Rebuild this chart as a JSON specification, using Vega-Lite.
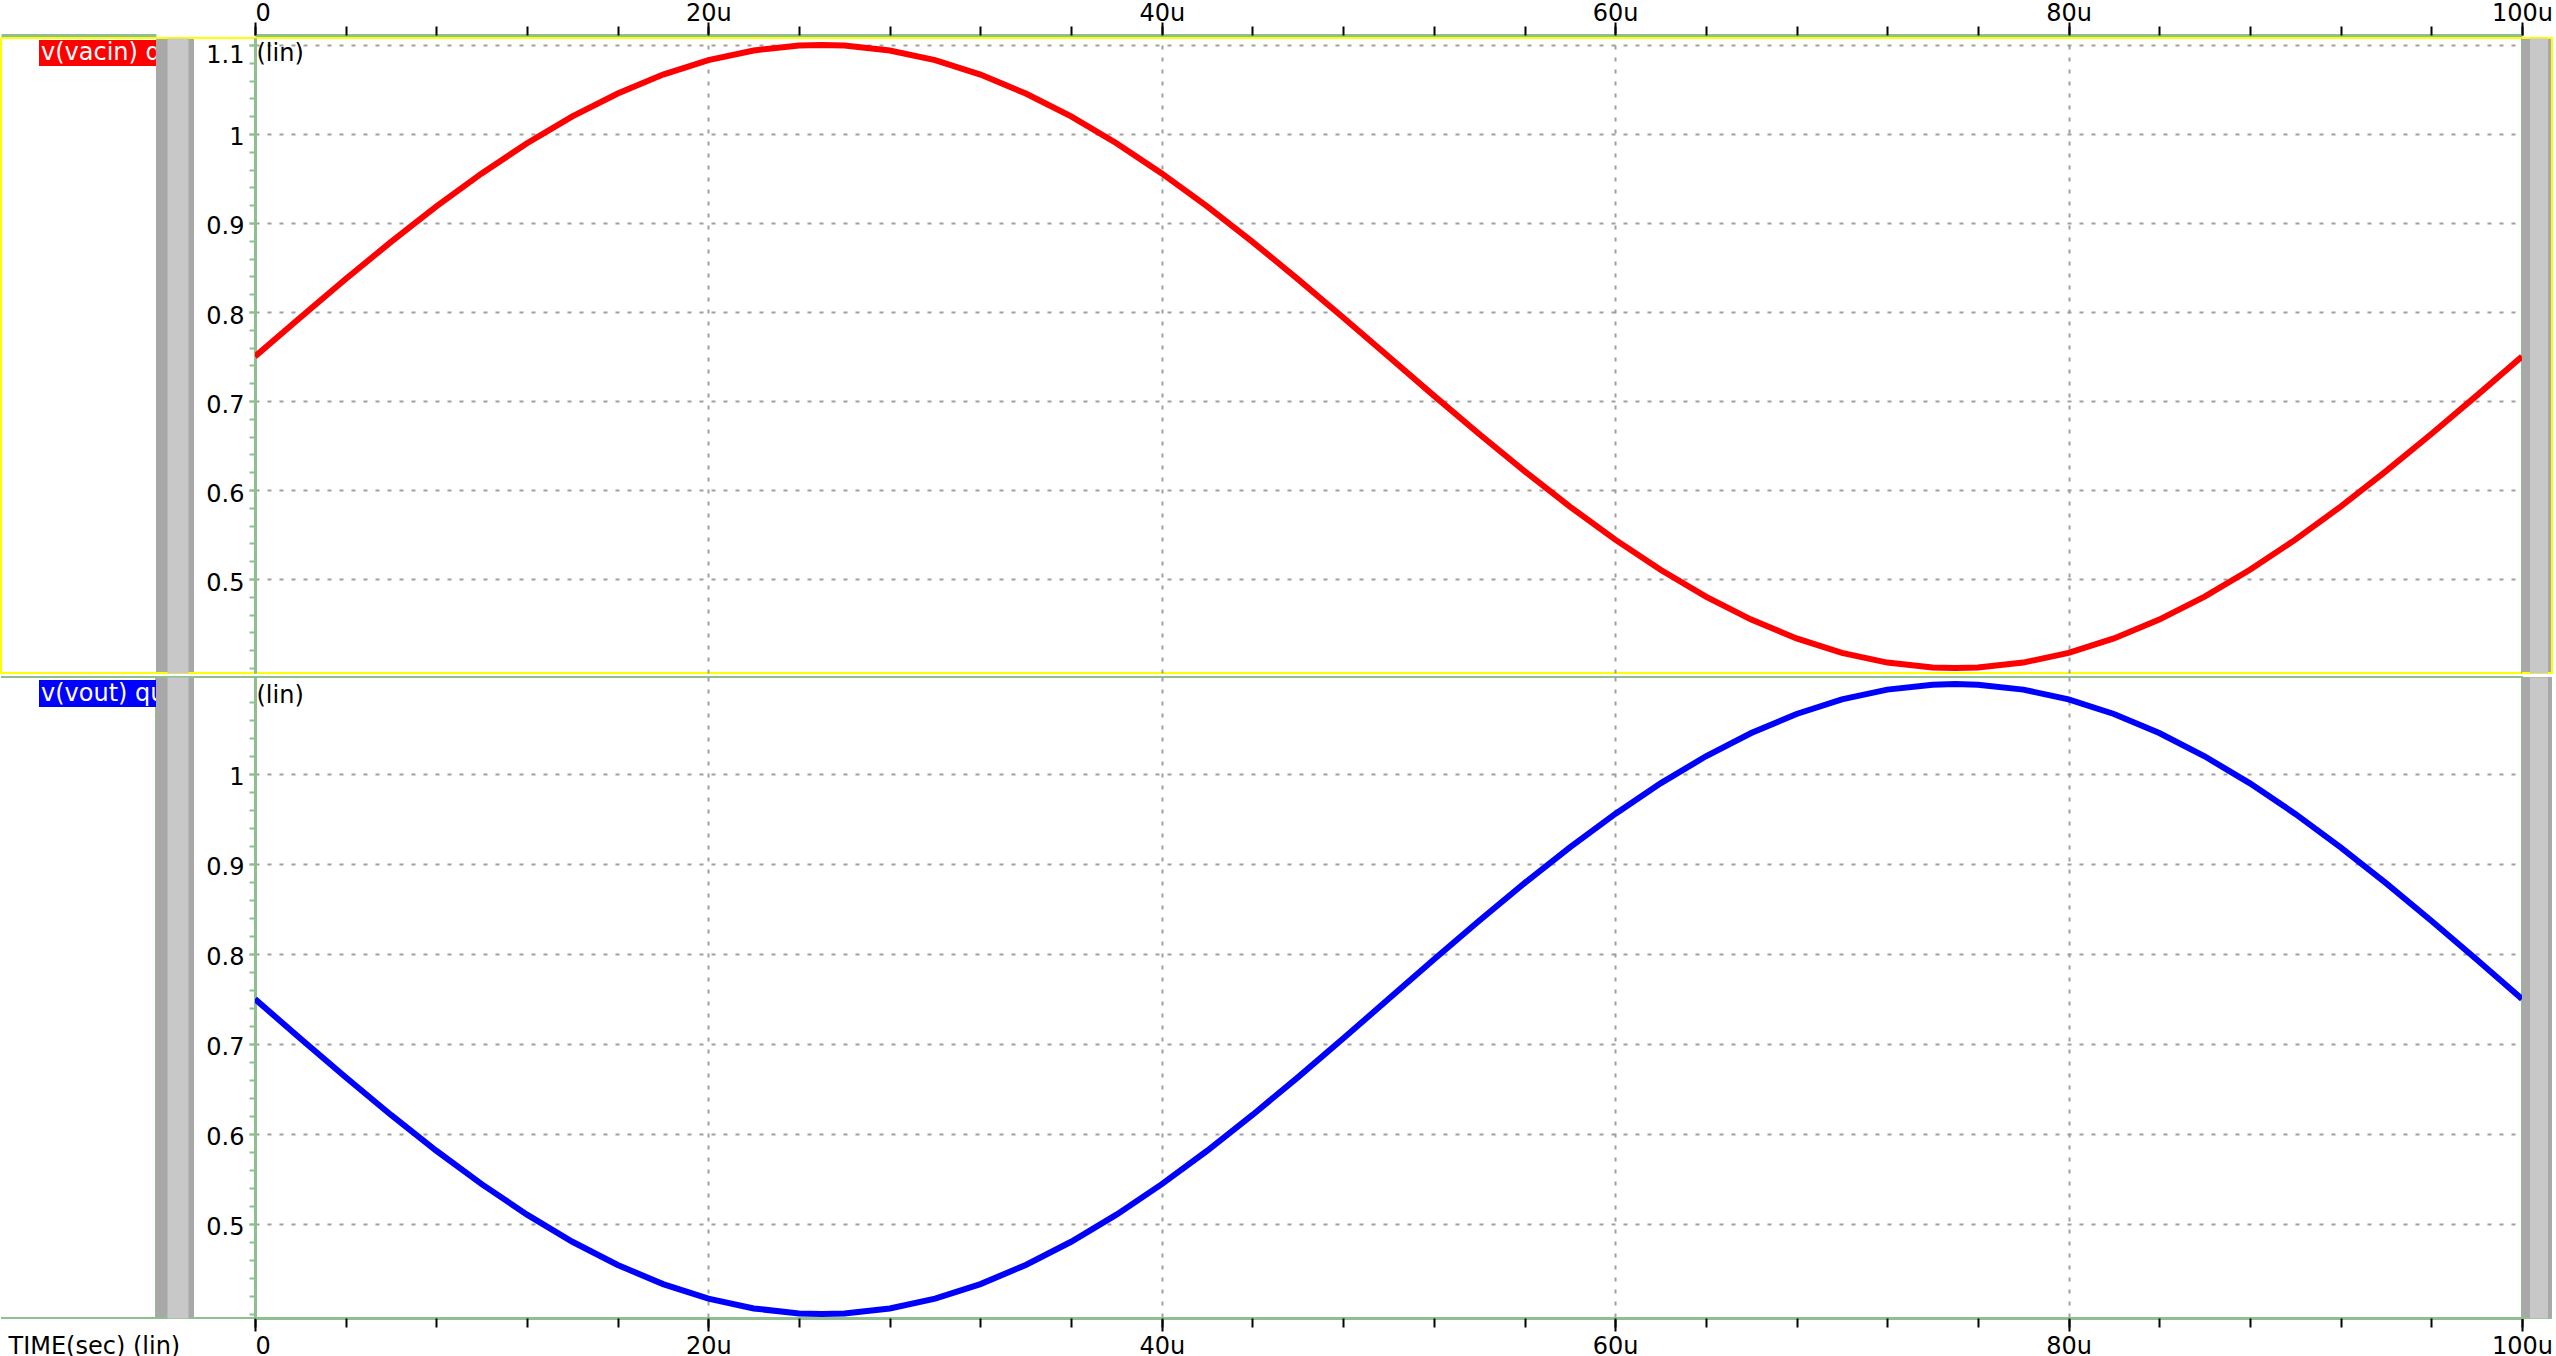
{
  "$schema": "https://vega.github.io/schema/vega-lite/v6.json",
  "background": "white",
  "padding": {"left": 0, "top": 0, "right": 5, "bottom": 0},
  "autosize": {"type": "pad"},
  "config": {
    "font": "DejaVu Sans",
    "axis": {"labelFont": "DejaVu Sans", "titleFont": "DejaVu Sans"},
    "text": {"font": "DejaVu Sans"},
    "view": {"stroke": null}
  },
  "datasets": {
    "wave": [
      {"t": 0, "vacin": 0.75, "vout": 0.75},
      {"t": 2, "vacin": 0.7939, "vout": 0.7061},
      {"t": 4, "vacin": 0.837, "vout": 0.663},
      {"t": 6, "vacin": 0.8788, "vout": 0.6212},
      {"t": 8, "vacin": 0.9186, "vout": 0.5814},
      {"t": 10, "vacin": 0.9557, "vout": 0.5443},
      {"t": 12, "vacin": 0.9896, "vout": 0.5104},
      {"t": 14, "vacin": 1.0197, "vout": 0.4803},
      {"t": 16, "vacin": 1.0455, "vout": 0.4545},
      {"t": 18, "vacin": 1.0667, "vout": 0.4333},
      {"t": 20, "vacin": 1.0829, "vout": 0.4171},
      {"t": 22, "vacin": 1.0938, "vout": 0.4062},
      {"t": 24, "vacin": 1.0993, "vout": 0.4007},
      {"t": 25, "vacin": 1.1, "vout": 0.4},
      {"t": 26, "vacin": 1.0993, "vout": 0.4007},
      {"t": 28, "vacin": 1.0938, "vout": 0.4062},
      {"t": 30, "vacin": 1.0829, "vout": 0.4171},
      {"t": 32, "vacin": 1.0667, "vout": 0.4333},
      {"t": 34, "vacin": 1.0455, "vout": 0.4545},
      {"t": 36, "vacin": 1.0197, "vout": 0.4803},
      {"t": 38, "vacin": 0.9896, "vout": 0.5104},
      {"t": 40, "vacin": 0.9557, "vout": 0.5443},
      {"t": 42, "vacin": 0.9186, "vout": 0.5814},
      {"t": 44, "vacin": 0.8788, "vout": 0.6212},
      {"t": 46, "vacin": 0.837, "vout": 0.663},
      {"t": 48, "vacin": 0.7939, "vout": 0.7061},
      {"t": 50, "vacin": 0.75, "vout": 0.75},
      {"t": 52, "vacin": 0.7061, "vout": 0.7939},
      {"t": 54, "vacin": 0.663, "vout": 0.837},
      {"t": 56, "vacin": 0.6212, "vout": 0.8788},
      {"t": 58, "vacin": 0.5814, "vout": 0.9186},
      {"t": 60, "vacin": 0.5443, "vout": 0.9557},
      {"t": 62, "vacin": 0.5104, "vout": 0.9896},
      {"t": 64, "vacin": 0.4803, "vout": 1.0197},
      {"t": 66, "vacin": 0.4545, "vout": 1.0455},
      {"t": 68, "vacin": 0.4333, "vout": 1.0667},
      {"t": 70, "vacin": 0.4171, "vout": 1.0829},
      {"t": 72, "vacin": 0.4062, "vout": 1.0938},
      {"t": 74, "vacin": 0.4007, "vout": 1.0993},
      {"t": 75, "vacin": 0.4, "vout": 1.1},
      {"t": 76, "vacin": 0.4007, "vout": 1.0993},
      {"t": 78, "vacin": 0.4062, "vout": 1.0938},
      {"t": 80, "vacin": 0.4171, "vout": 1.0829},
      {"t": 82, "vacin": 0.4333, "vout": 1.0667},
      {"t": 84, "vacin": 0.4545, "vout": 1.0455},
      {"t": 86, "vacin": 0.4803, "vout": 1.0197},
      {"t": 88, "vacin": 0.5104, "vout": 0.9896},
      {"t": 90, "vacin": 0.5443, "vout": 0.9557},
      {"t": 92, "vacin": 0.5814, "vout": 0.9186},
      {"t": 94, "vacin": 0.6212, "vout": 0.8788},
      {"t": 96, "vacin": 0.663, "vout": 0.837},
      {"t": 98, "vacin": 0.7061, "vout": 0.7939},
      {"t": 100, "vacin": 0.75, "vout": 0.75}
    ],
    "lab1": [{"label": "v(vacin) q"}],
    "lab2": [{"label": "v(vout) qu"}],
    "empty": []
  },
  "columns": 5,
  "spacing": {"row": 4, "column": 0},
  "bounds": "flush",
  "align": "each",
  "concat": [
    {
      "width": 155, "height": 635,
      "data": {"name": "lab1"},
      "view": {"fill": "white", "stroke": "#ffff00", "strokeWidth": 2, "strokeDash": [155, 635, 790, 0]},
      "layer": [
        {
          "mark": {"type": "bar", "color": "#ff0000"},
          "encoding": {
            "x": {"field": "label", "type": "nominal", "scale": {"type": "band", "paddingInner": 0, "paddingOuter": 0.1624, "align": 1},
              "axis": {"orient": "top", "offset": 3, "domainColor": "#8fbf8f", "domainWidth": 3, "ticks": false, "labels": false, "grid": false, "title": null}},
            "y": {"field": "label", "type": "nominal", "scale": {"type": "band", "paddingInner": 0.9146, "paddingOuter": 1, "align": 0.0033},
              "axis": {"orient": "right", "offset": 4, "domainColor": "#8fbf8f", "domainWidth": 6, "ticks": false, "labels": false, "grid": false, "title": null}}
          }
        },
        {
          "mark": {"type": "text", "color": "#ffffff", "align": "left", "baseline": "middle", "dx": 2, "fontSize": 24, "clip": true},
          "encoding": {
            "x": {"field": "label", "type": "nominal", "bandPosition": 0},
            "y": {"field": "label", "type": "nominal"},
            "text": {"field": "label"}
          }
        }
      ]
    },
    {
      "width": 38, "height": 635,
      "data": {"name": "empty"},
      "view": {"fill": "#a8a8a8", "stroke": "#ffff00", "strokeWidth": 2, "strokeDash": [38, 635, 38, 635]},
      "mark": {"type": "point", "opacity": 0},
      "encoding": {
        "y": {"datum": 0, "type": "quantitative", "axis": {"orient": "left", "offset": -21.5, "domainColor": "#c8c8c8", "domainWidth": 21, "ticks": false, "labels": false, "grid": false, "title": null}}
      }
    },
    {
      "width": 61, "height": 635,
      "data": {"name": "empty"},
      "view": {"fill": "white", "stroke": "#ffff00", "strokeWidth": 2, "strokeDash": [61, 635, 61, 635]},
      "mark": "rect",
      "encoding": {}
    },
    {
      "width": 2267, "height": 635,
      "data": {"name": "wave"},
      "view": {"fill": "white", "stroke": "#ffff00", "strokeWidth": 2},
      "resolve": {"axis": {"x": "independent", "y": "independent"}},
      "layer": [
        {
          "mark": {"type": "line", "color": "#ff0000", "strokeWidth": 6, "clip": true},
          "encoding": {
            "x": {
              "field": "t", "type": "quantitative",
              "scale": {"domain": [0, 100], "nice": false, "zero": false},
              "axis": {
                "orient": "top", "values": [0, 20, 40, 60, 80, 100], "offset": 3, "title": null,
                "labelExpr": "datum.value == 0 ? '0' : datum.value + 'u'",
                "labelAlign": {"condition": {"test": "datum.value == 0", "value": "left"}, "value": "center"},
                "labelBaseline": "alphabetic", "labelPadding": 2, "labelFontSize": 24, "labelColor": "#000000",
                "labelFlush": false, "labelOverlap": false, "labelBound": false,
                "tickSize": 13, "tickWidth": 2, "tickColor": "#000000",
                "domainColor": "#8fbf8f", "domainWidth": 3,
                "grid": true, "gridColor": "#a0a0a0", "gridDash": [4, 8], "gridWidth": 2
              }
            },
            "y": {
              "field": "vacin", "type": "quantitative",
              "scale": {"domain": [0.3945, 1.1078], "nice": false, "zero": false},
              "axis": {
                "orient": "left", "values": [0.5, 0.6, 0.7, 0.8, 0.9, 1, 1.1],
                "labelExpr": "format(datum.value, '~g')",
                "labelBaseline": "alphabetic",
                "labelOffset": {"condition": {"test": "datum.value > 1.09", "value": 18}, "value": 11},
                "labelPadding": 5, "labelFontSize": 24, "labelColor": "#000000", "labelFlush": false, "labelOverlap": false,
                "tickSize": 6, "tickWidth": 2, "tickColor": "#8fbf8f",
                "domainColor": "#8fbf8f", "domainWidth": 3,
                "grid": true, "gridColor": "#a0a0a0", "gridDash": [4, 8], "gridWidth": 2,
                "title": "(lin)", "titleAngle": 0, "titleX": 1, "titleY": 22, "titleAlign": "left", "titleBaseline": "alphabetic",
                "titleFontSize": 24, "titleFontWeight": "normal", "titleColor": "#000000"
              }
            }
          }
        },
        {
          "mark": {"type": "point", "opacity": 0},
          "encoding": {
            "x": {"field": "t", "type": "quantitative", "axis": {"orient": "top", "values": [0, 4, 8, 12, 16, 20, 24, 28, 32, 36, 40, 44, 48, 52, 56, 60, 64, 68, 72, 76, 80, 84, 88, 92, 96, 100], "offset": 3, "labels": false, "domain": false, "grid": false, "tickSize": 9, "tickWidth": 2, "tickColor": "#000000", "title": null}},
            "y": {"field": "vacin", "type": "quantitative", "axis": {"orient": "left", "values": [0.4, 0.42, 0.44, 0.46, 0.48, 0.5, 0.52, 0.54, 0.56, 0.58, 0.6, 0.62, 0.64, 0.66, 0.68, 0.7, 0.72, 0.74, 0.76, 0.78, 0.8, 0.82, 0.84, 0.86, 0.88, 0.9, 0.92, 0.94, 0.96, 0.98, 1, 1.02, 1.04, 1.06, 1.08, 1.1], "labels": false, "domain": false, "grid": false, "tickSize": 6, "tickWidth": 2, "tickColor": "#8fbf8f", "title": null}}
          }
        },
        {
          "mark": {"type": "point", "opacity": 0},
          "encoding": {
            "x": {"field": "t", "type": "quantitative", "axis": null},
            "y": {"field": "vacin", "type": "quantitative", "axis": {"orient": "right", "labels": false, "ticks": false, "grid": false, "domainColor": "#8fbf8f", "domainWidth": 3, "title": null}}
          }
        }
      ]
    },
    {
      "width": 30, "height": 635,
      "data": {"name": "empty"},
      "view": {"fill": "#a8a8a8", "stroke": "#ffff00", "strokeWidth": 2, "strokeDash": [695, 635]},
      "mark": {"type": "point", "opacity": 0},
      "encoding": {
        "y": {"datum": 0, "type": "quantitative", "axis": {"orient": "left", "offset": -16.5, "domainColor": "#c8c8c8", "domainWidth": 18, "ticks": false, "labels": false, "grid": false, "title": null}}
      }
    },
    {
      "width": 155, "height": 641,
      "data": {"name": "lab2"},
      "view": {"fill": "white", "stroke": "#8fbf8f", "strokeWidth": 2, "strokeDash": [951, 641]},
      "layer": [
        {
          "mark": {"type": "bar", "color": "#0000ff"},
          "encoding": {
            "x": {"field": "label", "type": "nominal", "axis": null, "scale": {"type": "band", "paddingInner": 0, "paddingOuter": 0.1624, "align": 1}},
            "y": {"field": "label", "type": "nominal", "scale": {"type": "band", "paddingInner": 0.91205, "paddingOuter": 1, "align": 0.0049},
              "axis": {"orient": "right", "offset": 4, "domainColor": "#8fbf8f", "domainWidth": 6, "ticks": false, "labels": false, "grid": false, "title": null}}
          }
        },
        {
          "mark": {"type": "text", "color": "#ffffff", "align": "left", "baseline": "middle", "dx": 2, "fontSize": 24, "clip": true},
          "encoding": {
            "x": {"field": "label", "type": "nominal", "bandPosition": 0},
            "y": {"field": "label", "type": "nominal"},
            "text": {"field": "label"}
          }
        }
      ]
    },
    {
      "width": 38, "height": 641,
      "data": {"name": "empty"},
      "view": {"fill": "#a8a8a8", "stroke": "#8fbf8f", "strokeWidth": 2, "strokeDash": [38, 641, 38, 641]},
      "mark": {"type": "point", "opacity": 0},
      "encoding": {
        "y": {"datum": 0, "type": "quantitative", "axis": {"orient": "left", "offset": -21.5, "domainColor": "#c8c8c8", "domainWidth": 21, "ticks": false, "labels": false, "grid": false, "title": null}}
      }
    },
    {
      "width": 61, "height": 641,
      "data": {"name": "empty"},
      "view": {"fill": "white", "stroke": "#8fbf8f", "strokeWidth": 2, "strokeDash": [61, 641, 61, 641]},
      "mark": "rect",
      "encoding": {}
    },
    {
      "width": 2267, "height": 641,
      "data": {"name": "wave"},
      "view": {"fill": "white", "stroke": "#8fbf8f", "strokeWidth": 2},
      "resolve": {"axis": {"x": "independent", "y": "independent"}},
      "layer": [
        {
          "mark": {"type": "line", "color": "#0000ff", "strokeWidth": 6, "clip": true},
          "encoding": {
            "x": {
              "field": "t", "type": "quantitative",
              "scale": {"domain": [0, 100], "nice": false, "zero": false},
              "axis": {
                "orient": "bottom", "values": [0, 20, 40, 60, 80, 100],
                "labelExpr": "datum.value == 0 ? '0' : datum.value + 'u'",
                "labelAlign": {"condition": {"test": "datum.value == 0", "value": "left"}, "value": "center"},
                "labelBaseline": "alphabetic", "labelPadding": 22, "labelFontSize": 24, "labelColor": "#000000",
                "labelFlush": false, "labelOverlap": false, "labelBound": false,
                "tickSize": 13, "tickWidth": 2, "tickColor": "#000000",
                "domainColor": "#8fbf8f", "domainWidth": 3,
                "grid": true, "gridColor": "#a0a0a0", "gridDash": [4, 8], "gridWidth": 2,
                "title": "TIME(sec) (lin)", "titleX": -247, "titleY": 35, "titleAlign": "left", "titleBaseline": "alphabetic",
                "titleFontSize": 24, "titleFontWeight": "normal", "titleColor": "#000000"
              }
            },
            "y": {
              "field": "vout", "type": "quantitative",
              "scale": {"domain": [0.3956, 1.1078], "nice": false, "zero": false},
              "axis": {
                "orient": "left", "values": [0.5, 0.6, 0.7, 0.8, 0.9, 1],
                "labelExpr": "format(datum.value, '~g')",
                "labelBaseline": "alphabetic", "labelOffset": 10,
                "labelPadding": 5, "labelFontSize": 24, "labelColor": "#000000", "labelFlush": false, "labelOverlap": false,
                "tickSize": 6, "tickWidth": 2, "tickColor": "#8fbf8f",
                "domainColor": "#8fbf8f", "domainWidth": 3,
                "grid": true, "gridColor": "#a0a0a0", "gridDash": [4, 8], "gridWidth": 2,
                "title": "(lin)", "titleAngle": 0, "titleX": 1, "titleY": 25, "titleAlign": "left", "titleBaseline": "alphabetic",
                "titleFontSize": 24, "titleFontWeight": "normal", "titleColor": "#000000"
              }
            }
          }
        },
        {
          "mark": {"type": "point", "opacity": 0},
          "encoding": {
            "x": {"field": "t", "type": "quantitative", "axis": {"orient": "bottom", "values": [0, 4, 8, 12, 16, 20, 24, 28, 32, 36, 40, 44, 48, 52, 56, 60, 64, 68, 72, 76, 80, 84, 88, 92, 96, 100], "labels": false, "domain": false, "grid": false, "tickSize": 9, "tickWidth": 2, "tickColor": "#000000", "title": null}},
            "y": {"field": "vout", "type": "quantitative", "axis": {"orient": "left", "values": [0.4, 0.42, 0.44, 0.46, 0.48, 0.5, 0.52, 0.54, 0.56, 0.58, 0.6, 0.62, 0.64, 0.66, 0.68, 0.7, 0.72, 0.74, 0.76, 0.78, 0.8, 0.82, 0.84, 0.86, 0.88, 0.9, 0.92, 0.94, 0.96, 0.98, 1, 1.02, 1.04, 1.06, 1.08], "labels": false, "domain": false, "grid": false, "tickSize": 6, "tickWidth": 2, "tickColor": "#8fbf8f", "title": null}}
          }
        },
        {
          "mark": {"type": "point", "opacity": 0},
          "encoding": {
            "x": {"field": "t", "type": "quantitative", "axis": null},
            "y": {"field": "vout", "type": "quantitative", "axis": {"orient": "right", "labels": false, "ticks": false, "grid": false, "domainColor": "#8fbf8f", "domainWidth": 3, "title": null}}
          }
        }
      ]
    },
    {
      "width": 30, "height": 641,
      "data": {"name": "empty"},
      "view": {"fill": "#a8a8a8", "stroke": "#8fbf8f", "strokeWidth": 2, "strokeDash": [0, 671, 30, 641]},
      "mark": {"type": "point", "opacity": 0},
      "encoding": {
        "y": {"datum": 0, "type": "quantitative", "axis": {"orient": "left", "offset": -16.5, "domainColor": "#c8c8c8", "domainWidth": 18, "ticks": false, "labels": false, "grid": false, "title": null}}
      }
    }
  ]
}
